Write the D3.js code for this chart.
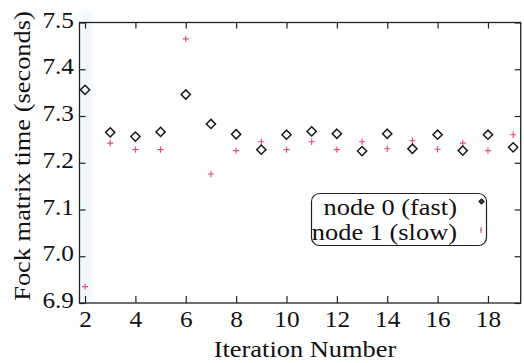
<!DOCTYPE html>
<html>
<head>
<meta charset="utf-8">
<script src="https://cdn.jsdelivr.net/npm/d3@7"></script>
<style>
  body { margin: 0; background: #fff; }
  svg { display: block; }
</style>
</head>
<body>
<div id="chart"></div>
<script>
// timings per SCF iteration, read for both nodes
let iterations = [2, 3, 4, 5, 6, 7, 8, 9, 10, 11, 12, 13, 14, 15, 16, 17, 18, 19];
let node0 = [7.356, 7.265, 7.256, 7.266, 7.346, 7.283, 7.261, 7.228, 7.260, 7.267, 7.262, 7.225, 7.262, 7.230, 7.260, 7.226, 7.260, 7.233];
let node1 = [6.935, 7.242, 7.228, 7.228, 7.465, 7.176, 7.226, 7.245, 7.228, 7.245, 7.228, 7.245, 7.230, 7.247, 7.229, 7.242, 7.226, 7.260];
let xTicks = [2, 4, 6, 8, 10, 12, 14, 16, 18];
let yTicks = [6.9, 7.0, 7.1, 7.2, 7.3, 7.4, 7.5];
let legendNames = ["node 0 (fast)", "node 1 (slow)"];

let svgWidth = 524, svgHeight = 363;
let plot = {left: 79.5, right: 520.7, top: 22.5, bottom: 303};
let font = "Liberation Serif";
let pink = "#e2488a";

let x = d3.scaleLinear().domain([1.78, 19.3]).range([plot.left, plot.right]);
let y = d3.scaleLinear().domain([6.9, 7.5]).range([plot.bottom, plot.top]);

// the printed type runs a little wider than plain Times
function widen(sel) {
    sel.each(function() {
        let w = this.getComputedTextLength();
        d3.select(this).attr("textLength", w * 1.1).attr("lengthAdjust", "spacingAndGlyphs");
    });
}

let svg = d3.select("#chart").append("svg")
    .attr("width", svgWidth)
    .attr("height", svgHeight);

// faint bluish smear down the left edge of the frame
let defs = svg.append("defs");
defs.append("filter").attr("id", "smear")
    .append("feGaussianBlur").attr("stdDeviation", 3);
svg.append("rect")
    .attr("x", plot.left + 1)
    .attr("y", plot.top - 10)
    .attr("width", 11)
    .attr("height", plot.bottom - plot.top + 8)
    .attr("fill", "#d6eaf8")
    .attr("opacity", 0.45)
    .attr("filter", "url(#smear)");

// axes with inward ticks on all four sides
let bottomAxis = svg.append("g")
    .attr("transform", "translate(0," + plot.bottom + ")")
    .call(d3.axisBottom(x).tickValues(xTicks).tickSizeInner(-7).tickSizeOuter(0).tickPadding(7.5)
        .tickFormat(d3.format("d")));
let topAxis = svg.append("g")
    .attr("transform", "translate(0," + plot.top + ")")
    .call(d3.axisTop(x).tickValues(xTicks).tickSizeInner(-6).tickSizeOuter(0).tickFormat(""));
let leftAxis = svg.append("g")
    .attr("transform", "translate(" + plot.left + ",0)")
    .call(d3.axisLeft(y).tickValues(yTicks).tickSizeInner(-6).tickSizeOuter(0).tickPadding(5.5)
        .tickFormat(d3.format(".1f")));
let rightAxis = svg.append("g")
    .attr("transform", "translate(" + plot.right + ",0)")
    .call(d3.axisRight(y).tickValues(yTicks).tickSizeInner(-6).tickSizeOuter(0).tickFormat(""));

[bottomAxis, topAxis, leftAxis, rightAxis].forEach(function(g) {
    g.attr("font-family", null).attr("font-size", null);
    g.select(".domain").remove();
    g.selectAll(".tick line").attr("stroke", "#222").attr("stroke-width", 1.2);
    g.selectAll(".tick text")
        .style("font-family", font)
        .style("font-size", "23px")
        .attr("fill", "#111");
});
leftAxis.selectAll(".tick text").attr("dy", "0.2em");
bottomAxis.selectAll(".tick text").call(widen);
leftAxis.selectAll(".tick text").call(widen);

svg.append("rect")
    .attr("x", plot.left)
    .attr("y", plot.top)
    .attr("width", plot.right - plot.left)
    .attr("height", plot.bottom - plot.top)
    .attr("fill", "none")
    .attr("stroke", "#222")
    .attr("stroke-width", 1.3);

// axis titles
svg.append("text")
    .text("Iteration Number")
    .attr("x", 305)
    .attr("y", 356.5)
    .attr("text-anchor", "middle")
    .style("font-family", font)
    .style("font-size", "24px")
    .attr("fill", "#111")
    .call(widen);

svg.append("text")
    .text("Fock matrix time (seconds)")
    .attr("transform", "translate(30,156) rotate(-90)")
    .attr("text-anchor", "middle")
    .style("font-family", font)
    .style("font-size", "24px")
    .attr("fill", "#111")
    .call(widen);

let diamond = "M0,-4.6L4.6,0L0,4.6L-4.6,0Z";
let plus = "M-3,0H3M0,-3.2V3.2";

// node 1 crosses
svg.append("g").selectAll(".slow")
    .data(iterations)
    .enter()
    .append("path")
    .attr("class", "slow")
    .attr("d", plus)
    .attr("transform", function(d, i) { return "translate(" + x(d) + "," + y(node1[i]) + ")"; })
    .attr("fill", "none")
    .attr("stroke", pink)
    .attr("stroke-width", 1.1);

// node 0 diamonds
svg.append("g").selectAll(".fast")
    .data(iterations)
    .enter()
    .append("path")
    .attr("class", "fast")
    .attr("d", diamond)
    .attr("transform", function(d, i) { return "translate(" + x(d) + "," + y(node0[i]) + ")"; })
    .attr("fill", "none")
    .attr("stroke", "#1a1a1a")
    .attr("stroke-width", 1.5);

// legend
let legend = svg.append("g");
legend.append("rect")
    .attr("x", 311.5)
    .attr("y", 193.5)
    .attr("width", 175)
    .attr("height", 52)
    .attr("rx", 8)
    .attr("fill", "#fff")
    .attr("stroke", "#222")
    .attr("stroke-width", 1.2);

legend.selectAll(".legendText")
    .data(legendNames)
    .enter()
    .append("text")
    .attr("class", "legendText")
    .text(function(d) { return d; })
    .attr("x", 457)
    .attr("y", function(d, i) { return 215 + i * 25; })
    .attr("text-anchor", "end")
    .style("font-family", font)
    .style("font-size", "24px")
    .attr("fill", "#111")
    .call(widen);

legend.append("path")
    .attr("d", "M0,-2.5L2.5,0L0,2.5L-2.5,0Z")
    .attr("transform", "translate(481.5,201.5)")
    .attr("fill", "#444")
    .attr("stroke", "#1a1a1a")
    .attr("stroke-width", 1.2);
legend.append("path")
    .attr("d", "M-1,0H1M0,-3V3")
    .attr("transform", "translate(481,230)")
    .attr("fill", "none")
    .attr("stroke", pink)
    .attr("stroke-width", 1);
</script>
</body>
</html>
